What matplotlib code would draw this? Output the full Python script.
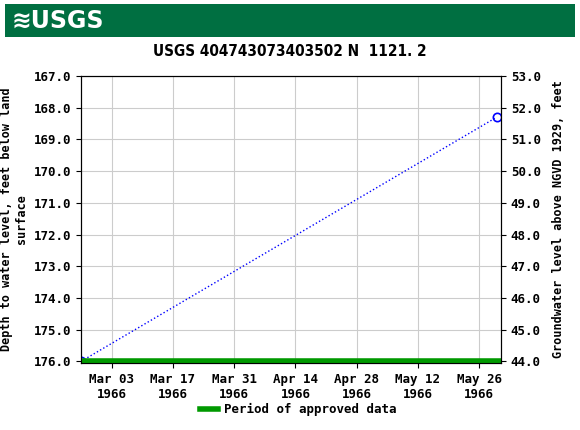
import matplotlib
matplotlib.use("Agg")
import matplotlib.pyplot as plt
from matplotlib.patches import Rectangle
import datetime as dt

dates = [dt.datetime(1966, 2, 24), dt.datetime(1966, 5, 30)]
depth = [176.0, 168.3]
xticks = [dt.datetime(1966, 3, 3), dt.datetime(1966, 3, 17), dt.datetime(1966, 3, 31),
          dt.datetime(1966, 4, 14), dt.datetime(1966, 4, 28), dt.datetime(1966, 5, 12),
          dt.datetime(1966, 5, 26)]
xlabels = ["Mar 03\n1966", "Mar 17\n1966", "Mar 31\n1966", "Apr 14\n1966",
           "Apr 28\n1966", "May 12\n1966", "May 26\n1966"]
yticks = [167.0, 168.0, 169.0, 170.0, 171.0, 172.0, 173.0, 174.0, 175.0, 176.0]
title = "USGS 404743073403502 N  1121. 2"

W, H = 580, 430
fig = plt.figure(figsize=(W/100, H/100), dpi=100)
fig.patch.set_facecolor("white")
fig.patches.append(Rectangle((5/W, 1-37/H), 570/W, 33/H, transform=fig.transFigure,
                             facecolor="#006f41", edgecolor="none"))
fig.text(12/W, 1-21/H, "≋USGS", color="white", fontsize=17, fontweight="bold",
         va="center", ha="left", family="DejaVu Sans")
fig.text(0.5, 1-52/H, title, ha="center", va="center", fontsize=11, fontweight="bold",
         family="Liberation Sans Narrow" if False else "DejaVu Sans", fontstretch="condensed")

ax = fig.add_axes([81/W, 1-363/H, 420/W, 287/H])
mono = dict(family="DejaVu Sans Mono", fontweight="bold", fontsize=9)
lab = dict(family="DejaVu Sans Mono", fontweight="bold", fontsize=8.5)
ax.plot(dates, depth, linestyle=":", color="blue", linewidth=1, marker="o",
        markerfacecolor="none", markersize=6, markeredgewidth=1.2)
ax.axhline(176.0, color="#009900", linewidth=4, zorder=3)
ax.set_xlim(dt.datetime(1966, 2, 24), dt.datetime(1966, 5, 31))
ax.set_ylim(176.05, 167.0)
ax.set_yticks(yticks)
ax.set_yticklabels([f"{v:.1f}" for v in yticks], **mono)
ax.set_xticks(xticks)
ax.set_xticklabels(xlabels, **mono)
ax.grid(True, color="#cccccc", linewidth=0.8)
ax.set_ylabel("Depth to water level, feet below land\nsurface", **lab)

ax2 = ax.twinx()
ax2.set_ylim(220 - 176.05, 220 - 167.0)
r = [44.0, 45.0, 46.0, 47.0, 48.0, 49.0, 50.0, 51.0, 52.0, 53.0]
ax2.set_yticks(r)
ax2.set_yticklabels([f"{v:.1f}" for v in r], **mono)
ax2.set_ylabel("Groundwater level above NGVD 1929, feet", labelpad=8, **lab)

fig.lines.append(plt.Line2D([200/W, 218/W], [1-409/H]*2, transform=fig.transFigure,
                            color="#009900", linewidth=4))
fig.text(224/W, 1-409/H, "Period of approved data", va="center", **mono)
fig.savefig("out.png", dpi=100)
